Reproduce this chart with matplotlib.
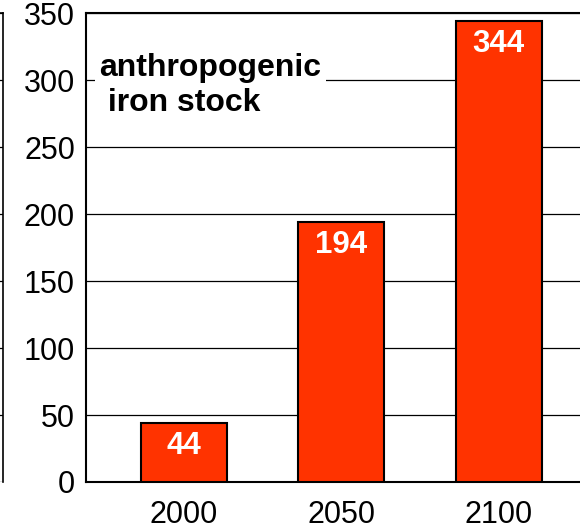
import matplotlib
matplotlib.use("Agg")
import matplotlib.pyplot as plt

plt.rcParams['font.family'] = ['Liberation Sans', 'DejaVu Sans']

# data
years = ['2000', '2050', '2100']
stock = [44, 194, 344]
y_ticks = [0, 50, 100, 150, 200, 250, 300, 350]

fig = plt.figure(figsize=(5.8, 5.31), dpi=100)

# piece of the neighbouring chart, cut off at the left edge
ax0 = fig.add_axes([-0.3, 0.0923, 0.3 + 3/580, 0.883])
ax0.set_ylim(0, 350)
ax0.set_yticks(y_ticks)
ax0.set_xticks([])
ax0.yaxis.grid(True, color='black', linewidth=0.9)
ax0.tick_params(left=False, labelleft=False)
for s in ['left', 'bottom']:
    ax0.spines[s].set_visible(False)
ax0.spines['right'].set_linewidth(1.2)
ax0.spines['top'].set_linewidth(1.2)

# main chart
ax = fig.add_axes([86/580, 0.0923, (620-86)/580, 0.883])
x = range(len(years))
bars = ax.bar(x, stock, width=0.546, color='#FF3300', edgecolor='black',
              linewidth=1.5, zorder=3)
ax.set_xlim(-0.62, 2.77)
ax.set_ylim(0, 350)
ax.set_yticks(y_ticks)
ax.set_xticks(list(x))
ax.set_xticklabels(years)
ax.yaxis.grid(True, color='black', linewidth=0.9, zorder=0)
ax.set_axisbelow(True)
ax.tick_params(axis='both', length=0, labelsize=22)
ax.tick_params(axis='y', pad=8)
ax.tick_params(axis='x', pad=13)
for s in ['left', 'bottom', 'top', 'right']:
    ax.spines[s].set_linewidth(1.5)

for b, v in zip(bars, stock):
    ax.annotate(str(v), (b.get_x() + b.get_width()/2, v), xytext=(0, -6),
                textcoords='offset points', ha='center', va='top',
                color='white', fontsize=22.5, fontweight='bold', zorder=4)

ax.text(-0.535, 320, 'anthropogenic\n iron stock', ha='left', va='top',
        fontsize=23, fontweight='bold', linespacing=1.2, zorder=2,
        bbox=dict(facecolor='white', edgecolor='none', pad=3))

fig.savefig('out.png', dpi=100)
